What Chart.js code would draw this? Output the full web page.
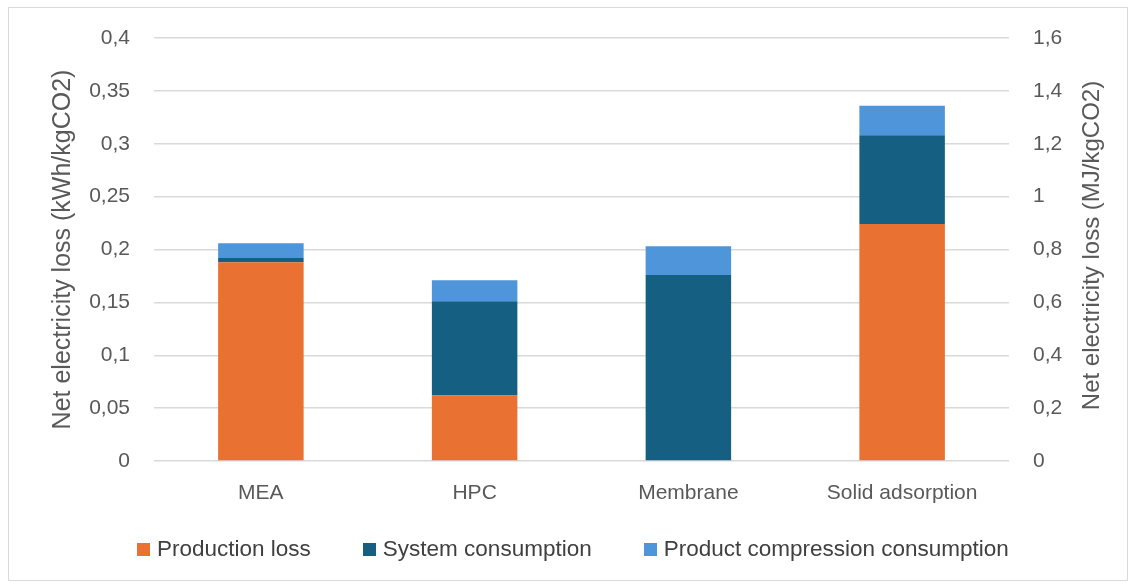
<!DOCTYPE html>
<html>
<head>
<meta charset="utf-8">
<script src="https://cdn.jsdelivr.net/npm/chart.js@4"></script>
<style>
  html, body { margin: 0; padding: 0; background: #ffffff; }
  #wrap { position: relative; width: 1134px; height: 585px; }
  #frame { position: absolute; left: 8px; top: 7px; width: 1120px; height: 574px;
           border: 1.5px solid #d9d9d9; box-sizing: border-box; pointer-events: none; }
  canvas { position: absolute; left: 0; top: 0; }
  #legend { position: absolute; left: 137px; top: 536px; height: 26px; display: flex;
            align-items: center; gap: 52px; white-space: nowrap;
            font-family: "Liberation Sans", Arial, sans-serif; font-size: 22.5px; color: #404040; }
  #legend .item { display: flex; align-items: center; }
  #legend .swatch { width: 13px; height: 13px; margin-right: 7px; flex: none; }
</style>
</head>
<body>
<div id="wrap">
  <canvas id="chart" width="1134" height="585"></canvas>
  <div id="legend"></div>
  <div id="frame"></div>
</div>
<script>
// Capture technologies on the x axis
const categories = ['MEA', 'HPC', 'Membrane', 'Solid adsorption'];

// Net electricity loss contributions, kWh per kg CO2
const productionLoss = [0.188, 0.062, 0, 0.224];
const systemConsumption = [0.004, 0.089, 0.176, 0.084];
const compressionConsumption = [0.014, 0.020, 0.027, 0.028];

const seriesNames = ['Production loss', 'System consumption', 'Product compression consumption'];
const seriesColors = ['#E97132', '#156082', '#4E95D9'];

// Axis ranges
const leftMax = 0.4, leftStep = 0.05;
const rightMax = 1.6, rightStep = 0.2;

const FONT = '"Liberation Sans", Arial, sans-serif';
const TEXT = '#595959';

const fmt = v => String(Number(v.toFixed(2))).replace('.', ',');

// Secondary axis title, read bottom-to-top like the primary one
const rightTitle = {
  id: 'rightTitle',
  afterDraw(chart) {
    const { ctx, chartArea } = chart;
    ctx.save();
    ctx.translate(1092, (chartArea.top + chartArea.bottom) / 2 - 4);
    ctx.rotate(-Math.PI / 2);
    ctx.font = '24px ' + FONT;
    ctx.fillStyle = TEXT;
    ctx.textAlign = 'center';
    ctx.textBaseline = 'middle';
    ctx.fillText('Net electricity loss (MJ/kgCO2)', 0, 0);
    ctx.restore();
  }
};

const datasets = [productionLoss, systemConsumption, compressionConsumption].map((d, i) => ({
  label: seriesNames[i],
  data: d,
  backgroundColor: seriesColors[i],
  borderWidth: 0,
  barPercentage: 0.4,
  categoryPercentage: 1.0,
  yAxisID: 'y'
}));

const chart = new Chart(document.getElementById('chart'), {
  type: 'bar',
  data: { labels: categories, datasets },
  plugins: [rightTitle],
  options: {
    responsive: false,
    animation: false,
    devicePixelRatio: 1,
    layout: { padding: { top: 38, left: 10, right: 10, bottom: 10 } },
    plugins: {
      tooltip: { enabled: false },
      legend: { display: false }
    },
    scales: {
      x: {
        stacked: true,
        grid: { display: false, drawTicks: false },
        border: { display: false },
        ticks: { color: TEXT, font: { family: FONT, size: 21 }, padding: 20, maxRotation: 0 },
        afterFit(scale) { scale.height = 114; }
      },
      y: {
        stacked: true,
        position: 'left',
        min: 0,
        max: leftMax,
        ticks: { stepSize: leftStep, color: TEXT, font: { family: FONT, size: 21 }, padding: 24,
                 callback: v => fmt(v) },
        grid: { color: '#d9d9d9', lineWidth: 1.5, drawTicks: false },
        border: { display: false },
        title: { display: true, text: 'Net electricity loss (kWh/kgCO2)', color: TEXT,
                 font: { family: FONT, size: 25 }, padding: { top: 38, bottom: 0 } },
        afterFit(scale) { scale.width = 144; }
      },
      y2: {
        position: 'right',
        min: 0,
        max: rightMax,
        ticks: { stepSize: rightStep, color: TEXT, font: { family: FONT, size: 21 }, padding: 24,
                 callback: v => fmt(v) },
        grid: { drawOnChartArea: false, drawTicks: false },
        border: { display: false },
        afterFit(scale) { scale.width = 115; }
      }
    }
  }
});

// Legend built from the chart's own datasets
const legendEl = document.getElementById('legend');
chart.data.datasets.forEach(ds => {
  const item = document.createElement('div');
  item.className = 'item';
  const sw = document.createElement('span');
  sw.className = 'swatch';
  sw.style.background = ds.backgroundColor;
  const label = document.createElement('span');
  label.textContent = ds.label;
  item.appendChild(sw);
  item.appendChild(label);
  legendEl.appendChild(item);
});
</script>
</body>
</html>
